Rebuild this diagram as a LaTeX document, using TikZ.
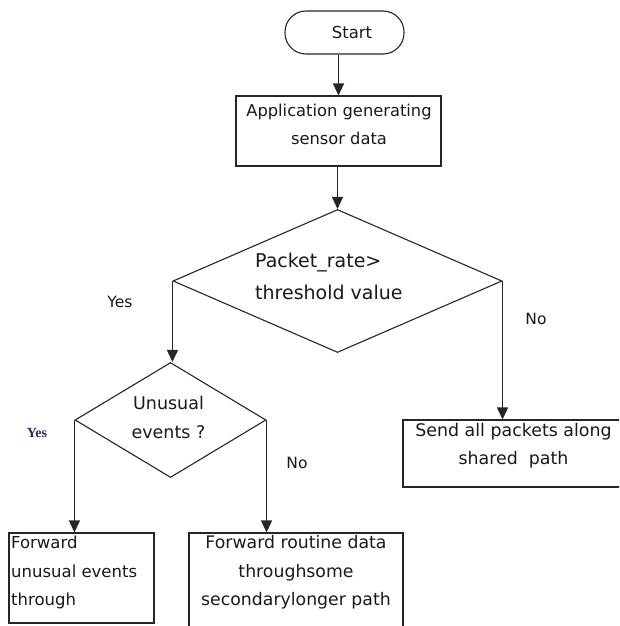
\documentclass[tikz,border=0pt]{standalone}
\usepackage{fontspec}
\setmainfont{DejaVu Sans}
\newfontfamily\yesfont{Liberation Serif}
\usetikzlibrary{shapes.geometric,arrows.meta}
\tikzset{
  line/.style={draw=black!85, line width=1.1pt},
  arr/.style={line, -{Triangle[length=12pt,width=11pt]}},
  procbox/.style={line, rectangle, inner sep=0pt},
  decision/.style={line, diamond, inner sep=0pt},
  term/.style={line, rectangle, rounded corners=21pt, inner sep=0pt, minimum width=119pt, minimum height=43pt},
  txt/.style={inner sep=0pt, text=black!90},
  lbl/.style={inner sep=0pt, text=black!90, font=\fontsize{15.5}{18}\selectfont}
}
\begin{document}
\begin{tikzpicture}[x=1pt,y=-1pt]
\useasboundingbox (0,0) rectangle (619,626);
\clip (0,0) rectangle (619,626);
% shapes
\node[term] (start) at (344.5,32.5) {};
\node[txt, font=\fontsize{16.5}{20}\selectfont] (starttxt) at (352,32) {Start};
\node[procbox, minimum width=205pt, minimum height=70pt] (app) at (338.5,131) {};
\node[txt, align=center, font=\fontsize{16.3}{28}\selectfont] (apptxt) at (339,124) {Application generating\\sensor data};
\node[decision, minimum width=329pt, minimum height=143pt] (d1) at (337.5,281) {};
\node[txt, anchor=west, align=left, font=\fontsize{19}{32}\selectfont] (d1txt) at (255,276) {Packet\_rate>\\threshold value};
\node[decision, minimum width=191pt, minimum height=115pt] (d2) at (170.5,420) {};
\node[txt, align=center, font=\fontsize{17.5}{29}\selectfont] (d2txt) at (168.5,417.5) {Unusual\\events ?};
\node[procbox, minimum width=145pt, minimum height=90pt] (lbox) at (81.5,578) {};
\node[txt, anchor=west, align=left, font=\fontsize{16.5}{28.5}\selectfont] (lboxtxt) at (11,572.5) {Forward\\unusual events\\through};
\node[procbox, minimum width=214pt, minimum height=110pt] (mbox) at (296,588) {};
\node[txt, align=center, font=\fontsize{17.3}{28.5}\selectfont] (mboxtxt) at (296,572.5) {Forward routine data\\throughsome\\secondarylonger path};
\node[procbox, minimum width=230pt, minimum height=67pt] (rbox) at (518,453.5) {};
\node[txt, align=center, font=\fontsize{17.4}{28}\selectfont] (rboxtxt) at (513.5,446) {Send all packets along\\shared\ \ path};
% labels
\node[lbl] (yes1) at (120,302) {Yes};
\node[lbl] (no1) at (536,319) {No};
\node[lbl] (no2) at (297,463) {No};
\node[inner sep=0pt, text={rgb,255:red,40;green,45;blue,90}, font=\yesfont\bfseries\fontsize{14}{16}\selectfont] (yes2) at (37,433) {Yes};
% connectors
\draw[arr] (app.north |- start.south) -- (app.north);
\draw[arr] (d1.north |- app.south) -- (d1.north);
\draw[arr] (d1.west) -- (d1.west |- d2.north);
\draw[arr] (d1.east) -- (d1.east |- rbox.north);
\draw[arr] (d2.west) -- (d2.west |- lbox.north);
\draw[arr] (d2.east) -- (d2.east |- mbox.north);
\end{tikzpicture}
\end{document}
